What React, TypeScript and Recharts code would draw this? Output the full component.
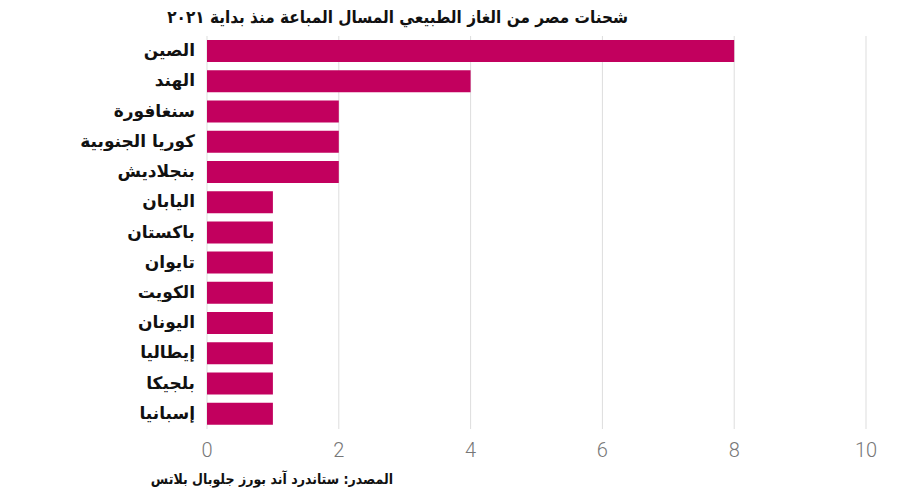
import React from "react";
import { BarChart, Bar, XAxis, YAxis, CartesianGrid } from "recharts";

const countries = [
  "الصين",
  "الهند",
  "سنغافورة",
  "كوريا الجنوبية",
  "بنجلاديش",
  "اليابان",
  "باكستان",
  "تايوان",
  "الكويت",
  "اليونان",
  "إيطاليا",
  "بلجيكا",
  "إسبانيا",
];
const shipments = [8, 4, 2, 2, 2, 1, 1, 1, 1, 1, 1, 1, 1];
const xTicks = [0, 2, 4, 6, 8, 10];

const data = countries.map((name, i) => ({ name, value: shipments[i] }));

const BAR_COLOR = "#c2005e";

function CountryTick({ x, y, payload }: any) {
  return (
    <text
      x={x - 4}
      y={y}
      dy={5}
      textAnchor="end"
      fontFamily="'DejaVu Sans', sans-serif"
      fontWeight={700}
      fontSize={17}
      fill="#111"
    >
      {payload.value}
    </text>
  );
}

function ValueTick({ x, y, payload }: any) {
  return (
    <text
      x={x}
      y={y}
      dy={20}
      textAnchor="middle"
      fontFamily="Roboto, sans-serif"
      fontWeight={300}
      fontSize={20}
      fill="#777"
    >
      {payload.value}
    </text>
  );
}

export default function App() {
  return (
    <div style={{ position: "absolute", left: 0, top: 0, width: 917, height: 503, background: "#fff" }}>
      <div
        style={{
          position: "absolute",
          right: 289,
          top: 7,
          direction: "rtl",
          fontFamily: "'DejaVu Sans Condensed', 'DejaVu Sans', sans-serif",
          fontWeight: 700,
          fontSize: 17,
          color: "#111",
          whiteSpace: "nowrap",
        }}
      >
        شحنات مصر من الغاز الطبيعي المسال المباعة منذ بداية ٢٠٢١
      </div>
      <BarChart
        width={917}
        height={503}
        data={data}
        layout="vertical"
        margin={{ top: 36, right: 51, bottom: 40, left: 0 }}
        barCategoryGap={4}
      >
        <CartesianGrid horizontal={false} stroke="#dddddd" />
        <XAxis
          type="number"
          domain={[0, 10]}
          ticks={xTicks}
          axisLine={false}
          tickLine={false}
          tick={<ValueTick />}
          height={34}
        />
        <YAxis
          type="category"
          dataKey="name"
          width={207}
          axisLine={false}
          tickLine={false}
          tick={<CountryTick />}
          interval={0}
        />
        <Bar dataKey="value" fill={BAR_COLOR} isAnimationActive={false} />
      </BarChart>
      <div
        style={{
          position: "absolute",
          right: 524,
          top: 471,
          direction: "rtl",
          fontFamily: "'DejaVu Sans Condensed', 'DejaVu Sans', sans-serif",
          fontSize: 14,
          fontWeight: 700,
          color: "#111",
          whiteSpace: "nowrap",
        }}
      >
        المصدر: ستاندرد آند بورز جلوبال بلاتس
      </div>
    </div>
  );
}
